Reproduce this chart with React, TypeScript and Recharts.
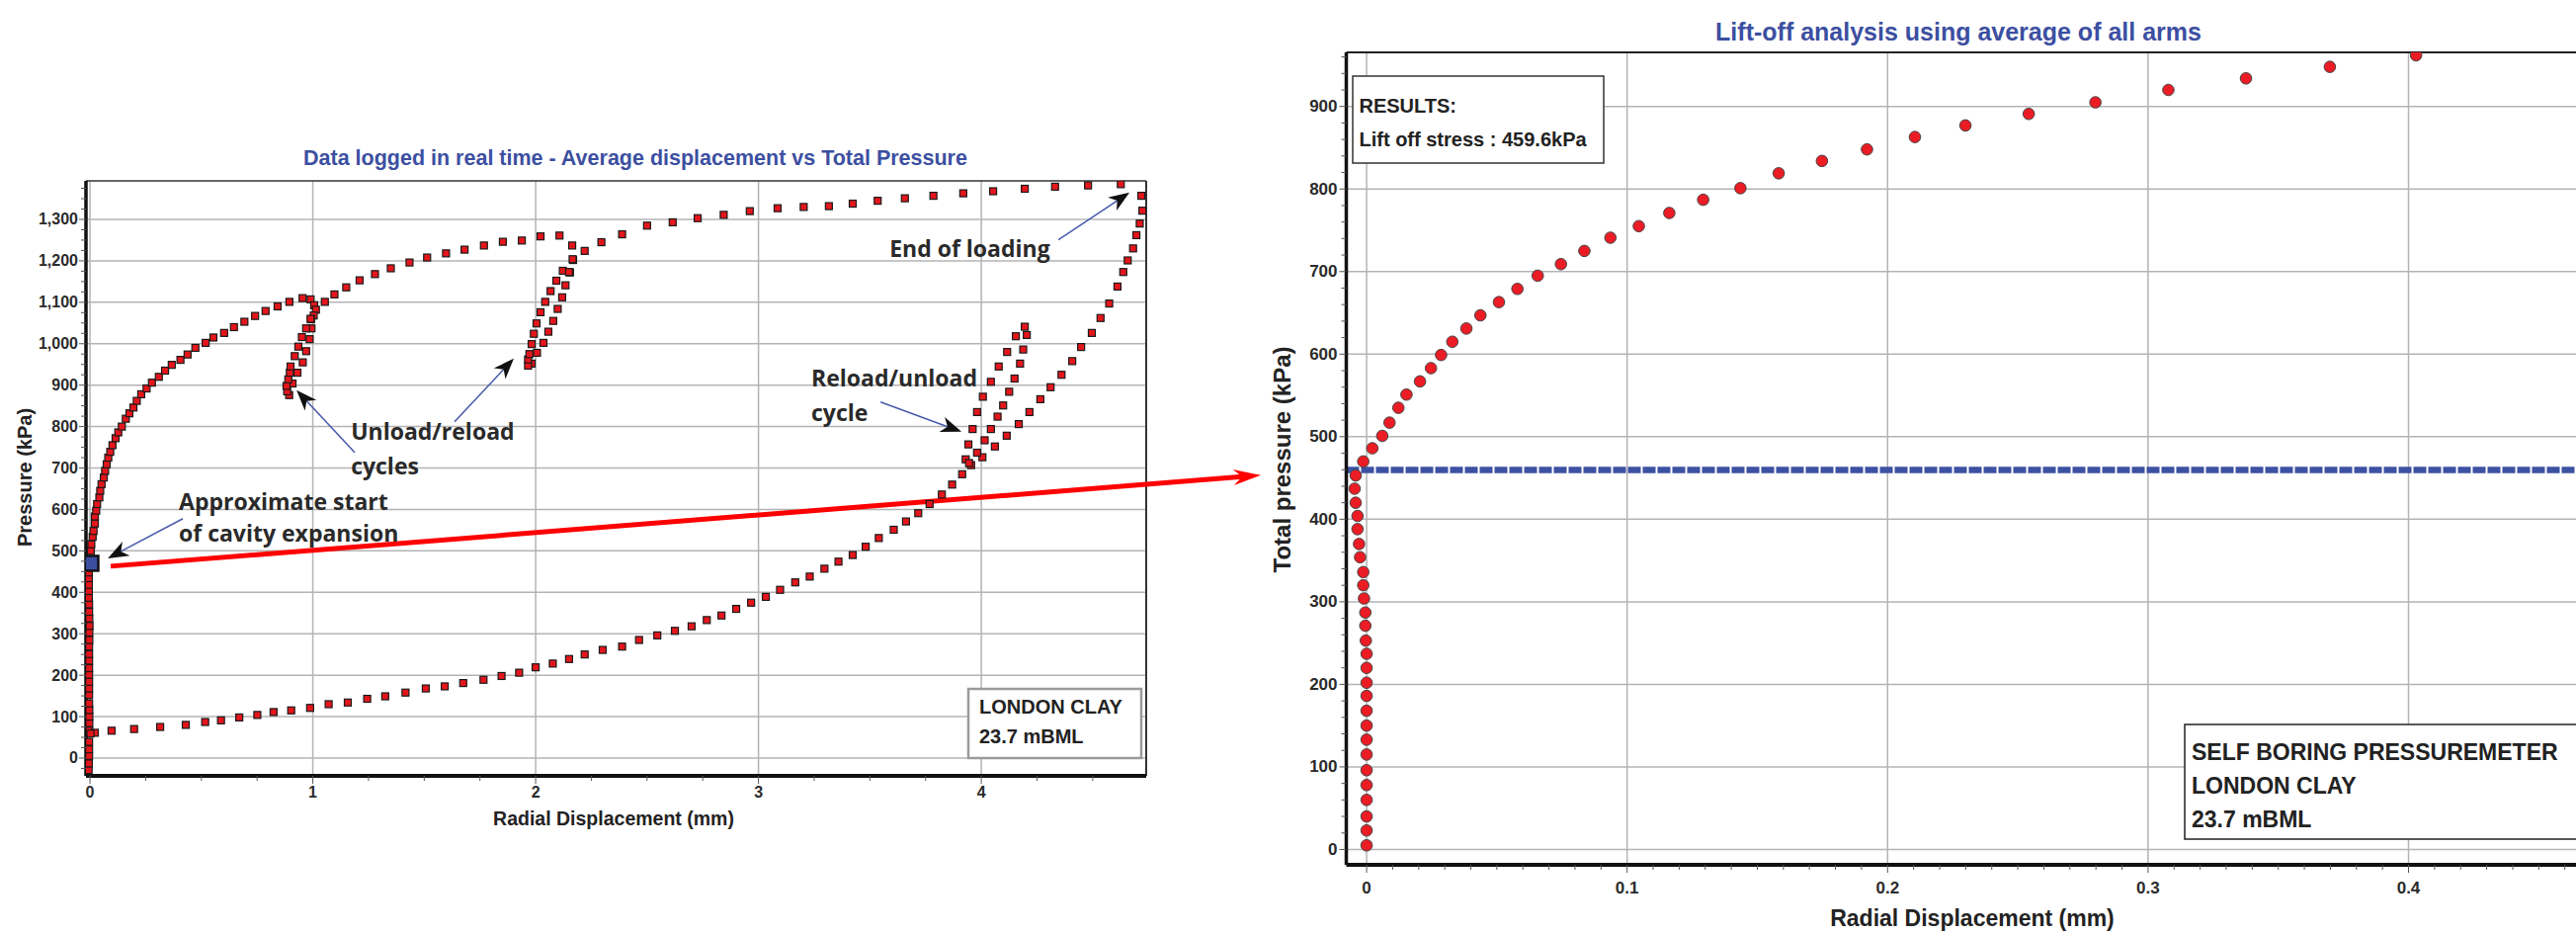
import React from 'react';
import { ScatterChart, Scatter, XAxis, YAxis, ReferenceLine, ReferenceDot } from 'recharts';

type Pt = [number, number];

const FONT = '"Liberation Sans", Arial, sans-serif';
const NOTE_FONT = '"Open Sans", "Liberation Sans", sans-serif';
const TITLE_BLUE = '#3c4fa1';

// ---- left chart: data logged in real time (displacement mm, pressure kPa) ----
const initialLoading: Pt[] = [
  [-0.006, -29], [-0.005, -13], [-0.004, 5], [-0.004, 21], [-0.004, 39], [-0.003, 66],
  [-0.003, 84], [-0.003, 100], [-0.003, 116], [-0.004, 132], [-0.004, 152], [-0.004, 168],
  [-0.004, 184], [-0.004, 201], [-0.004, 217], [-0.004, 235], [-0.004, 251], [-0.004, 269],
  [-0.003, 285], [-0.003, 303], [-0.002, 319], [-0.003, 337], [-0.004, 353], [-0.004, 371],
  [-0.005, 387], [-0.005, 403], [-0.005, 418], [-0.005, 434], [-0.005, 448],
];

const loadingCurve: Pt[] = [
  [0.004, 500], [0.006, 516], [0.012, 534], [0.016, 548], [0.022, 566], [0.022, 583],
  [0.028, 597], [0.032, 613], [0.042, 629], [0.046, 645], [0.052, 661], [0.062, 677],
  [0.068, 693], [0.075, 709], [0.082, 725], [0.091, 739], [0.101, 755], [0.115, 772],
  [0.127, 786], [0.143, 800], [0.161, 819], [0.177, 832], [0.195, 846], [0.21, 862],
  [0.23, 878], [0.254, 892], [0.278, 906], [0.309, 920], [0.337, 935], [0.367, 949],
  [0.406, 961], [0.438, 974], [0.473, 990], [0.519, 1002], [0.554, 1015], [0.602, 1026],
  [0.646, 1040], [0.693, 1053], [0.741, 1067], [0.788, 1079], [0.842, 1090], [0.895, 1101],
  [0.954, 1110],
];

const firstLoop: Pt[] = [
  [0.99, 1107], [1.006, 1093], [1.014, 1082], [1.004, 1068], [0.992, 1059], [0.994, 1037],
  [0.986, 1011], [0.97, 982], [0.955, 955], [0.931, 930], [0.909, 904], [0.894, 876],
  [0.885, 885], [0.882, 898], [0.89, 914], [0.897, 930], [0.9, 945], [0.919, 970],
  [0.935, 993], [0.951, 1016], [0.97, 1037], [0.99, 1060],
];

const midLoading: Pt[] = [
  [1.054, 1101], [1.097, 1119], [1.15, 1136], [1.21, 1153], [1.279, 1168], [1.35, 1182],
  [1.434, 1196], [1.513, 1208], [1.598, 1218], [1.681, 1227], [1.768, 1237], [1.853, 1246],
  [1.938, 1249], [2.022, 1259], [2.107, 1261],
];

const secondLoop: Pt[] = [
  [2.164, 1237], [2.22, 1224], [2.168, 1202], [2.154, 1172], [2.134, 1141], [2.119, 1112],
  [2.099, 1084], [2.079, 1055], [2.057, 1029], [2.035, 1002], [2.006, 978], [1.982, 952],
  [1.966, 947], [1.966, 962], [1.972, 975], [1.982, 999], [1.992, 1024], [2.004, 1049],
  [2.022, 1076], [2.043, 1101], [2.067, 1127], [2.093, 1152], [2.122, 1176], [2.15, 1173],
  [2.166, 1204],
];

const finalLoading: Pt[] = [
  [2.295, 1245], [2.388, 1264], [2.5, 1285], [2.615, 1293], [2.727, 1303], [2.844, 1311],
  [2.961, 1320], [3.086, 1327], [3.203, 1330], [3.316, 1332], [3.423, 1338], [3.535, 1345],
  [3.657, 1351], [3.785, 1357], [3.919, 1363], [4.053, 1368], [4.195, 1374], [4.331, 1379],
  [4.479, 1382], [4.626, 1385],
];

const unloading: Pt[] = [
  [4.718, 1357], [4.723, 1321], [4.711, 1290], [4.696, 1262], [4.681, 1230], [4.657, 1201],
  [4.637, 1173], [4.611, 1138], [4.574, 1097], [4.535, 1062], [4.496, 1026], [4.448, 992],
  [4.408, 958], [4.36, 925], [4.311, 895], [4.265, 866], [4.216, 835], [4.168, 806],
  [4.114, 778], [4.061, 752], [4.005, 726], [3.954, 707],
];

const thirdLoop: Pt[] = [
  [3.93, 721], [3.942, 757], [3.961, 794], [3.981, 835], [4.007, 872], [4.043, 908],
  [4.078, 945], [4.116, 980], [4.155, 1018], [4.195, 1041], [4.204, 1021], [4.188, 986],
  [4.174, 952], [4.149, 916], [4.125, 884], [4.098, 851], [4.073, 824], [4.043, 794],
  [4.015, 767], [3.981, 737], [3.945, 712],
];

const finalUnloading: Pt[] = [
  [3.914, 685], [3.869, 660], [3.823, 636], [3.768, 613], [3.717, 591], [3.662, 571],
  [3.607, 551], [3.54, 531], [3.481, 510], [3.423, 490], [3.359, 474], [3.296, 457],
  [3.23, 438], [3.165, 424], [3.097, 406], [3.033, 389], [2.967, 375], [2.9, 360],
  [2.834, 344], [2.768, 333], [2.7, 318], [2.625, 307], [2.546, 296], [2.464, 285],
  [2.388, 269], [2.301, 261], [2.22, 250], [2.15, 239], [2.077, 228], [2.0, 219],
  [1.926, 206], [1.847, 198], [1.766, 189], [1.675, 181], [1.592, 173], [1.507, 168],
  [1.416, 158], [1.325, 149], [1.244, 143], [1.157, 134], [1.071, 130], [0.988, 121],
  [0.903, 115], [0.824, 111], [0.751, 104], [0.67, 98], [0.588, 91], [0.517, 87],
  [0.43, 80], [0.315, 75], [0.198, 70], [0.097, 66], [0.022, 61], [0.002, 59],
];

const cavityStart: Pt[] = [[0.004, 470]];

const LEFT_X_DOMAIN: Pt = [-0.018, 4.74];
const LEFT_Y_DOMAIN: Pt = [-43, 1393];
const LEFT_X_LABELS = [0, 1, 2, 3, 4];
const LEFT_Y_LABELS = [0, 100, 200, 300, 400, 500, 600, 700, 800, 900, 1000, 1100, 1200, 1300];

// annotations on the left chart, in data units
const leftNotes = [
  { at: [1.171, 787.6] as Pt, lines: ['Unload/reload', 'cycles'], lineH: 35 },
  { at: [0.399, 618] as Pt, lines: ['Approximate start', 'of cavity expansion'], lineH: 32 },
  { at: [3.588, 1229] as Pt, lines: ['End of loading'], lineH: 35 },
  { at: [3.237, 916.5] as Pt, lines: ['Reload/unload', 'cycle'], lineH: 35 },
];
const leftArrows: [Pt, Pt][] = [
  [[1.188, 737.5], [0.927, 887.8]],
  [[1.636, 811.5], [1.902, 964.2]],
  [[0.417, 577.6], [0.08, 482]],
  [[4.346, 1250.6], [4.665, 1365]],
  [[3.548, 859], [3.911, 787.6]],
];
// red link from the start of cavity expansion over to the lift-off chart
const liftOffLink: [Pt, Pt] = [[0.093, 463], [5.255, 682.6]];

// ---- right chart: lift-off analysis ----
const liftOff: Pt[] = [
  [0, 5], [0, 23], [0, 40], [0, 60], [0, 78], [0, 96], [0, 115], [0, 133], [0, 150],
  [0, 168], [0, 186], [0, 202], [0, 220], [0, 237], [-0.0003, 253], [-0.0005, 271],
  [-0.0005, 287], [-0.001, 304], [-0.0013, 320], [-0.0013, 336], [-0.0025, 354],
  [-0.0029, 370], [-0.0035, 388], [-0.0035, 404], [-0.0042, 420], [-0.0046, 437],
  [-0.0042, 453], [-0.0013, 470], [0.0022, 486], [0.006, 501], [0.0088, 517],
  [0.0122, 535], [0.0153, 551], [0.0205, 567], [0.0247, 583], [0.0286, 599],
  [0.0329, 615], [0.0383, 631], [0.0437, 647], [0.0508, 663], [0.0579, 679],
  [0.0657, 695], [0.0746, 709], [0.0836, 725], [0.0936, 741], [0.1045, 755],
  [0.1162, 771], [0.1292, 787], [0.1435, 801], [0.1582, 819], [0.1748, 834],
  [0.1921, 848], [0.2105, 863], [0.2299, 877], [0.2542, 891], [0.2798, 905],
  [0.3078, 920], [0.3376, 934], [0.3698, 948], [0.4029, 962],
];
const LIFT_OFF_STRESS = 459.6;

const RIGHT_X_DOMAIN: Pt = [-0.0078, 0.4844];
const RIGHT_Y_DOMAIN: Pt = [-18.6, 965.5];
const RIGHT_X_LABELS = [0, 0.1, 0.2, 0.3, 0.4];
const RIGHT_Y_LABELS = [0, 100, 200, 300, 400, 500, 600, 700, 800, 900];

const steps = (from: number, to: number, step: number) => {
  const out: number[] = [];
  for (let v = from; v <= to + 1e-9; v += step) out.push(Math.round(v * 1e6) / 1e6);
  return out;
};
const toObj = (pts: Pt[]) => pts.map(([x, y]) => ({ x, y }));
const isLabel = (labels: number[], v: number) => labels.some((l) => Math.abs(l - v) < 1e-9);

const makeYTick =
  (labels: number[], fmt: (v: number) => string, fontSize: number, gap: number) =>
  (props: any) => {
    const { x, y, payload } = props;
    const major = isLabel(labels, payload.value);
    return (
      <g>
        <line x1={x - (major ? 7 : 5)} x2={x} y1={y} y2={y} stroke="#555" strokeWidth={1} />
        {major && (
          <text x={x - gap} y={y} textAnchor="end" dominantBaseline="central" fontFamily={FONT}
            fontWeight="bold" fontSize={fontSize} fill="#2b2b2b">
            {fmt(payload.value)}
          </text>
        )}
      </g>
    );
  };

const makeXTick =
  (labels: number[], fmt: (v: number) => string, fontSize: number, offset: number) =>
  (props: any) => {
    const { x, y, payload } = props;
    const major = isLabel(labels, payload.value);
    return (
      <g>
        <line x1={x} x2={x} y1={y} y2={y + (major ? 8 : 5)} stroke="#555" strokeWidth={1} />
        {major && (
          <text x={x} y={y + offset} textAnchor="middle" dominantBaseline="central" fontFamily={FONT}
            fontWeight="bold" fontSize={fontSize} fill="#2b2b2b">
            {fmt(payload.value)}
          </text>
        )}
      </g>
    );
  };

const redSquare = (p: any) => (
  <rect x={p.cx - 3.5} y={p.cy - 3.5} width={7} height={7} fill="#e4161c" stroke="#1a1a1a" strokeWidth={1.2} />
);
const blueSquare = (p: any) => (
  <rect x={p.cx - 7.5} y={p.cy - 7.5} width={15} height={15} fill="#3b4f9f" stroke="#111" strokeWidth={2.5} />
);
const redDot = (p: any) => <circle cx={p.cx} cy={p.cy} r={5.8} fill="#ec1c24" stroke="#444" strokeWidth={1} />;

const arrowShape =
  (lineColor: string, lineWidth: number, headColor: string, len: number, half: number, notch: number) =>
  (p: any) => {
    const { x1, y1, x2, y2 } = p;
    const a = Math.atan2(y2 - y1, x2 - x1);
    const c = Math.cos(a);
    const s = Math.sin(a);
    const bx = x2 - len * c;
    const by = y2 - len * s;
    const mx = x2 - (len - notch) * c;
    const my = y2 - (len - notch) * s;
    return (
      <g>
        <line x1={x1} y1={y1} x2={mx} y2={my} stroke={lineColor} strokeWidth={lineWidth} />
        <polygon
          points={`${x2},${y2} ${bx - s * half},${by + c * half} ${mx},${my} ${bx + s * half},${by - c * half}`}
          fill={headColor}
        />
      </g>
    );
  };

const noteShape = (lines: string[], lineH: number) => (p: any) => (
  <text fontFamily={NOTE_FONT} fontWeight={700} fontSize={23} fill="#2a2a2a">
    {lines.map((l, i) => (
      <tspan key={i} x={p.cx} y={p.cy + 8 + i * lineH}>
        {l}
      </tspan>
    ))}
  </text>
);

const gridStroke = '#b4b4b4';

function LoggedChart() {
  const ticksX = steps(0, 4.5, 0.25);
  const ticksY = steps(-25, 1375, 25);
  return (
    <ScatterChart width={1300} height={945} margin={{ top: 183, right: 140, bottom: 120, left: 27 }}>
      <XAxis type="number" dataKey="x" domain={LEFT_X_DOMAIN} allowDataOverflow ticks={ticksX} interval={0}
        tickSize={0} tickMargin={0} tickLine={false} height={40}
        axisLine={{ stroke: '#111', strokeWidth: 4 }}
        tick={makeXTick(LEFT_X_LABELS, (v) => String(v), 16, 16)} />
      <YAxis type="number" dataKey="y" domain={LEFT_Y_DOMAIN} allowDataOverflow ticks={ticksY} interval={0}
        tickSize={0} tickMargin={0} tickLine={false} width={60}
        axisLine={{ stroke: '#111', strokeWidth: 3.5 }}
        tick={makeYTick(LEFT_Y_LABELS, (v) => v.toLocaleString('en-US'), 16, 8)} />
      {LEFT_X_LABELS.map((v) => (
        <ReferenceLine key={'gx' + v} x={v} stroke={gridStroke} strokeWidth={1.5} />
      ))}
      {LEFT_Y_LABELS.map((v) => (
        <ReferenceLine key={'gy' + v} y={v} stroke={gridStroke} strokeWidth={1.5} />
      ))}
      <ReferenceLine y={LEFT_Y_DOMAIN[1]} stroke="#333" strokeWidth={1.5} />
      <ReferenceLine x={LEFT_X_DOMAIN[1]} stroke="#333" strokeWidth={2} />
      {[initialLoading, loadingCurve, firstLoop, midLoading, secondLoop, finalLoading, unloading, thirdLoop, finalUnloading].map(
        (s, i) => (
          <Scatter key={'s' + i} data={toObj(s)} shape={redSquare} isAnimationActive={false} />
        )
      )}
      <Scatter data={toObj(cavityStart)} shape={blueSquare} isAnimationActive={false} />
      {leftArrows.map(([a, b], i) => (
        <ReferenceLine key={'ar' + i} segment={[{ x: a[0], y: a[1] }, { x: b[0], y: b[1] }]} ifOverflow="visible"
          shape={arrowShape('#4a5cab', 1.6, '#111', 21, 8, 6)} />
      ))}
      <ReferenceLine
        segment={[{ x: liftOffLink[0][0], y: liftOffLink[0][1] }, { x: liftOffLink[1][0], y: liftOffLink[1][1] }]}
        ifOverflow="visible" shape={arrowShape('#ff0000', 5, '#ff0000', 28, 8, 9)} />
      {leftNotes.map((n, i) => (
        <ReferenceDot key={'n' + i} x={n.at[0]} y={n.at[1]} r={1} ifOverflow="visible" shape={noteShape(n.lines, n.lineH)} />
      ))}
    </ScatterChart>
  );
}

function LiftOffChart() {
  const ticksX = steps(0, 0.48, 0.01);
  const ticksY = steps(0, 960, 20);
  return (
    <ScatterChart width={1450} height={945} margin={{ top: 53, right: 40, bottom: 30, left: 52.5 }}>
      <XAxis type="number" dataKey="x" domain={RIGHT_X_DOMAIN} allowDataOverflow ticks={ticksX} interval={0}
        tickSize={0} tickMargin={0} tickLine={false} height={40}
        axisLine={{ stroke: '#111', strokeWidth: 4 }}
        tick={makeXTick(RIGHT_X_LABELS, (v) => (v === 0 ? '0' : v.toFixed(1)), 17, 23.5)} />
      <YAxis type="number" dataKey="y" domain={RIGHT_Y_DOMAIN} allowDataOverflow ticks={ticksY} interval={0}
        tickSize={0} tickMargin={0} tickLine={false} width={60}
        axisLine={{ stroke: '#111', strokeWidth: 3.5 }}
        tick={makeYTick(RIGHT_Y_LABELS, (v) => String(v), 17, 9)} />
      {RIGHT_X_LABELS.map((v) => (
        <ReferenceLine key={'gx' + v} x={v} stroke={gridStroke} strokeWidth={1.5} />
      ))}
      {RIGHT_Y_LABELS.map((v) => (
        <ReferenceLine key={'gy' + v} y={v} stroke={gridStroke} strokeWidth={1.5} />
      ))}
      <ReferenceLine y={RIGHT_Y_DOMAIN[1]} stroke="#222" strokeWidth={2} />
      <Scatter data={toObj(liftOff)} shape={redDot} isAnimationActive={false} />
      <ReferenceLine y={LIFT_OFF_STRESS} stroke="#3d51a3" strokeWidth={6.5} strokeDasharray="13 2" />
    </ScatterChart>
  );
}

const txt = { fontFamily: FONT, fontWeight: 'bold' as const, fill: '#222' };

export default function App() {
  return (
    <div style={{ position: 'fixed', left: 0, top: 0, width: 2607, height: 945, overflow: 'hidden', background: '#fff' }}>
      <div style={{ position: 'absolute', left: 1250, top: 0 }}>
        <LiftOffChart />
      </div>
      <div style={{ position: 'absolute', left: 0, top: 0 }}>
        <LoggedChart />
      </div>
      <svg width={2607} height={945} style={{ position: 'absolute', left: 0, top: 0, pointerEvents: 'none' }}>
        <text x={643} y={160} textAnchor="middle" dominantBaseline="central" {...txt} fill={TITLE_BLUE} fontSize={21.5}>
          Data logged in real time - Average displacement vs Total Pressure
        </text>
        <text transform="translate(25,483) rotate(-90)" textAnchor="middle" dominantBaseline="central" {...txt} fontSize={20}>
          Pressure (kPa)
        </text>
        <text x={621} y={828} textAnchor="middle" dominantBaseline="central" {...txt} fontSize={19.5}>
          Radial Displacement (mm)
        </text>
        <rect x={980} y={697} width={175} height={70} fill="#fff" stroke="#9a9a9a" strokeWidth={2.5} />
        <text x={991} y={715} dominantBaseline="central" {...txt} fontSize={20}>LONDON CLAY</text>
        <text x={991} y={745} dominantBaseline="central" {...txt} fontSize={20}>23.7 mBML</text>

        <text x={1982} y={32} textAnchor="middle" dominantBaseline="central" {...txt} fill={TITLE_BLUE} fontSize={25}>
          Lift-off analysis using average of all arms
        </text>
        <text transform="translate(1297,465) rotate(-90)" textAnchor="middle" dominantBaseline="central" {...txt} fontSize={24}>
          Total pressure (kPa)
        </text>
        <text x={1996} y={929} textAnchor="middle" dominantBaseline="central" {...txt} fontSize={23}>
          Radial Displacement (mm)
        </text>
        <rect x={1369} y={77} width={254} height={88} fill="#fff" stroke="#333" strokeWidth={1.5} />
        <text x={1375.5} y={106.7} dominantBaseline="central" {...txt} fontSize={20}>RESULTS:</text>
        <text x={1375.5} y={140.7} dominantBaseline="central" {...txt} fontSize={20}>
          Lift off stress : {LIFT_OFF_STRESS}kPa
        </text>
        <rect x={2211} y={733} width={450} height={116} fill="#fff" stroke="#222" strokeWidth={1.5} />
        <text x={2218} y={760.7} dominantBaseline="central" {...txt} fontSize={23}>SELF BORING PRESSUREMETER</text>
        <text x={2218} y={794.9} dominantBaseline="central" {...txt} fontSize={23}>LONDON CLAY</text>
        <text x={2218} y={828.6} dominantBaseline="central" {...txt} fontSize={23}>23.7 mBML</text>
      </svg>
    </div>
  );
}
